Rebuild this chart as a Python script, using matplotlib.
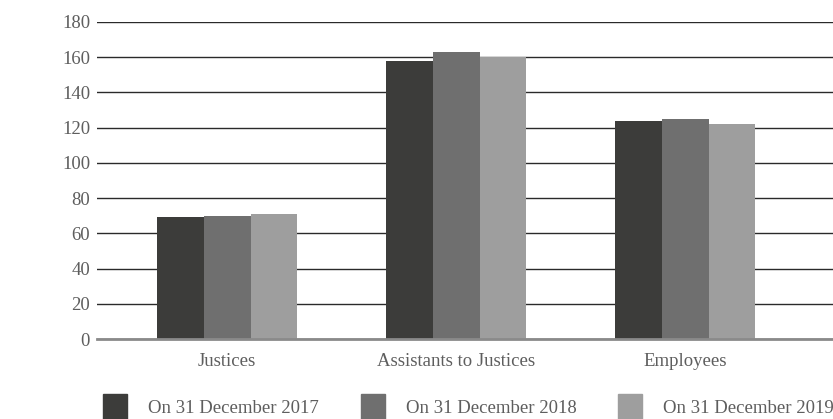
import numpy as np
import matplotlib.pyplot as plt
from matplotlib.patches import Rectangle

categories = ['Justices', 'Assistants to Justices', 'Employees']
series = ['On 31 December 2017', 'On 31 December 2018', 'On 31 December 2019']
values_2017 = [69, 158, 124]
values_2018 = [70, 163, 125]
values_2019 = [71, 160, 122]
colors = ['#3c3c3a', '#6f6f6f', '#9e9e9e']

plt.rcParams['font.family'] = ['Liberation Serif', 'DejaVu Serif']
txt = '#5e5e5e'
W, H = 833, 419

fig = plt.figure(figsize=(W / 100, H / 100), dpi=100)
ax = fig.add_axes([97 / W, 80 / H, 736 / W, (339 - 22) / H])

x = np.arange(len(categories))
w = 0.205
for i, vals in enumerate([values_2017, values_2018, values_2019]):
    ax.bar(x + (i - 1) * w, vals, width=w, color=colors[i], zorder=3)

ax.set_ylim(0, 180)
ax.set_yticks(range(0, 181, 20))
ax.set_xlim(-0.568, -0.568 + 736 / 229)
ax.set_xticks(x)
ax.set_xticklabels(categories)
ax.yaxis.grid(True, color='#2a2a2a', linewidth=1, zorder=0)
for s in ['top', 'right', 'left']:
    ax.spines[s].set_visible(False)
ax.spines['bottom'].set_color('#8a8a8a')
ax.spines['bottom'].set_linewidth(2)
ax.spines['bottom'].set_zorder(4)
ax.tick_params(axis='both', length=0, colors=txt, labelsize=13.5)
ax.tick_params(axis='y', pad=5)
ax.tick_params(axis='x', pad=10)

# legend along the bottom edge
for i, (lab, c) in enumerate(zip(series, colors)):
    x0 = 103 + i * 257.5
    fig.patches.append(Rectangle((x0 / W, -2 / H), 24 / W, 27 / H,
                                 transform=fig.transFigure, color=c))
    fig.text((x0 + 45) / W, 1 - 408 / H, lab, fontsize=13.5, color=txt,
             va='center', ha='left')

fig.savefig('out.png', dpi=100)
